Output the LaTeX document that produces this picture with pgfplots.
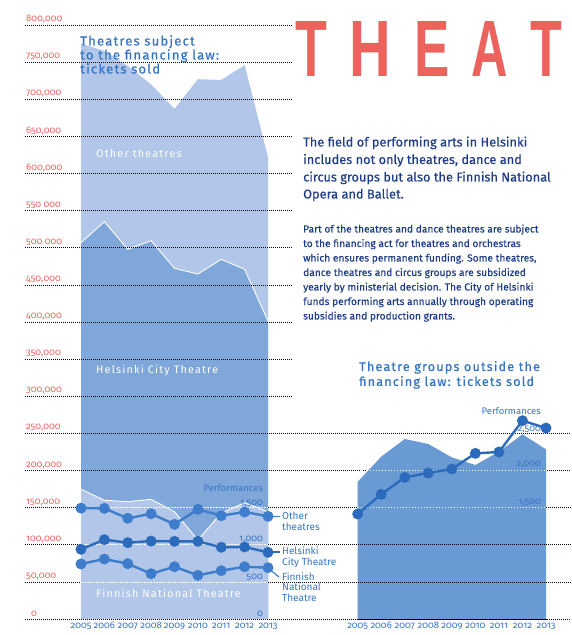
\documentclass[border=0pt]{standalone}
\usepackage{fontspec}
\setmainfont{Fira Sans}[Numbers=OldStyle]
\newfontfamily\spaced{Fira Sans}[LetterSpace=11,Numbers=OldStyle]
\newfontfamily\spacedb{Fira Sans}[LetterSpace=9,FakeBold=0.8,Numbers=OldStyle]
\newfontfamily\parafont{Fira Sans}[FakeBold=0.4,Numbers=OldStyle]
\newfontfamily\bigfont{Liberation Sans}
\usepackage{pgfplots}
\usepackage{pgfplotstable}
\pgfplotsset{compat=1.18}
\definecolor{tickred}{HTML}{EE6660}
\definecolor{bigred}{HTML}{EC625C}
\definecolor{lightA}{HTML}{B1C6E8}
\definecolor{midA}{HTML}{7FA7D9}
\definecolor{rightA}{HTML}{6A9AD4}
\definecolor{lineA}{HTML}{3D7DCB}
\definecolor{lineB}{HTML}{2C6BBB}
\definecolor{txtblue}{HTML}{3675C4}
\definecolor{navy}{HTML}{1E3C87}

\pgfplotstableread{
year fnt hct total
2005 174700 506800 775000
2006 159900 535100 765000
2007 158000 497900 745000
2008 161200 509500 720000
2009 144500 472300 687000
2010 106400 464600 727000
2011 142800 484400 726000
2012 156600 470900 746000
2013 144500 401300 622000
}\tickets

\pgfplotstableread{
year other hct fnt
2005 1493 939 741
2006 1490 1068 808
2007 1356 1028 745
2008 1418 1050 610
2009 1275 1046 704
2010 1477 1046 588
2011 1391 966 651
2012 1441 970 704
2013 1383 898 691
}\perf

\pgfplotstableread{
year tickets perf
2005 184900 1414
2006 218600 1679
2007 242400 1908
2008 235700 1966
2009 217700 2020
2010 207400 2231
2011 225300 2249
2012 248700 2671
2013 228500 2572
}\groups

\tikzset{bk/.style={black,line width=0.7pt,dash pattern=on 0.9pt off 1.1pt},
         wt/.style={white,line width=0.7pt,dash pattern=on 1.5pt off 1.5pt}}

\begin{document}
\begin{tikzpicture}
\useasboundingbox (0,0) rectangle (571pt,635pt);
% ---------------- left chart: tickets ----------------
\begin{axis}[at={(25pt,16pt)},anchor=south west,scale only axis,
  width=546pt,height=594pt,xmin=2002.604,xmax=2025.963,ymin=0,ymax=800000,
  hide axis,clip=false]
\addplot[fill=lightA,draw=none] table[x=year,y=total]{\tickets} \closedcycle;
\addplot[fill=midA,draw=none] table[x=year,y=hct]{\tickets} \closedcycle;
\addplot[fill=lightA,draw=none] table[x=year,y=fnt]{\tickets} \closedcycle;
\addplot[white,line width=0.9pt] table[x=year,y=hct]{\tickets};
\addplot[white,line width=0.9pt] table[x=year,y=fnt]{\tickets};
% grid lines
\draw[bk] (axis cs:2002.604,800000) -- (axis cs:2014.03,800000);
\draw[bk] (axis cs:2002.604,750000) -- (axis cs:2014.03,750000);
\draw[bk] (axis cs:2002.604,700000) -- (axis cs:2014.03,700000);
\draw[bk] (axis cs:2002.604,650000) -- (axis cs:2014.03,650000);
\draw[bk] (axis cs:2002.604,600000) -- (axis cs:2014.03,600000);
\draw[bk] (axis cs:2002.604,550000) -- (axis cs:2014.03,550000);
\draw[bk] (axis cs:2002.604,500000) -- (axis cs:2014.03,500000);
\draw[bk] (axis cs:2002.604,450000) -- (axis cs:2014.03,450000);
\draw[bk] (axis cs:2002.604,400000) -- (axis cs:2014.03,400000);
\draw[bk] (axis cs:2002.604,350000) -- (axis cs:2014.03,350000);
\draw[bk] (axis cs:2002.604,300000) -- (axis cs:2014.03,300000);
\draw[bk] (axis cs:2002.604,250000) -- (axis cs:2025.963,250000);
\draw[bk] (axis cs:2002.604,200000) -- (axis cs:2025.963,200000);
\draw[bk] (axis cs:2002.604,0) -- (axis cs:2025.963,0);
\draw[bk] (axis cs:2002.604,150000) -- (axis cs:2005,150000);
\draw[bk] (axis cs:2013,150000) -- (axis cs:2025.963,150000);
\draw[bk] (axis cs:2002.604,100000) -- (axis cs:2005,100000);
\draw[bk] (axis cs:2013,100000) -- (axis cs:2025.963,100000);
\draw[bk] (axis cs:2002.604,50000) -- (axis cs:2005,50000);
\draw[bk] (axis cs:2013,50000) -- (axis cs:2025.963,50000);
\draw[wt] (axis cs:2005,150000) -- (axis cs:2013,150000);
\draw[wt] (axis cs:2005,100000) -- (axis cs:2013,100000);
\draw[wt] (axis cs:2005,50000) -- (axis cs:2013,50000);
\end{axis}
% ---------------- left chart: performances ----------------
\begin{axis}[at={(25pt,16pt)},anchor=south west,scale only axis,
  width=546pt,height=594pt,xmin=2002.604,xmax=2025.963,ymin=0,ymax=8000,
  hide axis,clip=false]
\addplot[lineA,line width=2.4pt,mark=*,mark size=4.2pt] table[x=year,y=other]{\perf};
\addplot[lineB,line width=2.4pt,mark=*,mark size=4.2pt] table[x=year,y=hct]{\perf};
\addplot[lineA,line width=2.4pt,mark=*,mark size=4.2pt] table[x=year,y=fnt]{\perf};
\end{axis}
% ---------------- right chart ----------------
\begin{axis}[at={(357.7pt,16pt)},anchor=south west,scale only axis,
  width=188.3pt,height=594pt,xmin=2005,xmax=2013,ymin=0,ymax=800000,
  hide axis,clip=false]
\addplot[fill=rightA,draw=none] table[x=year,y=tickets]{\groups} \closedcycle;
\draw[bk] (axis cs:2005,100000) -- (axis cs:2013,100000);
\draw[bk] (axis cs:2005,50000) -- (axis cs:2013,50000);
\draw[bk] (axis cs:2005,0) -- (axis cs:2013,0);
\draw[wt] (axis cs:2005,150000) -- (axis cs:2013,150000);
\draw[wt] (axis cs:2005,200000) -- (axis cs:2013,200000);
\end{axis}
\begin{axis}[at={(357.7pt,16pt)},anchor=south west,scale only axis,
  width=188.3pt,height=594pt,xmin=2005,xmax=2013,ymin=0,ymax=8000,
  hide axis,clip=false]
\addplot[lineB,line width=2.4pt,mark=*,mark size=4.2pt] table[x=year,y=perf]{\groups};
\end{axis}
% ---------------- texts (pixel coordinates) ----------------
\begin{scope}[x=1pt,y=-1pt,shift={(0pt,635pt)},every node/.style={inner sep=0pt}]
% connector lines
\draw[lineA,line width=1.2pt] (268,516.5) -- (280,516.5);
\draw[lineB,line width=1.2pt] (268,552) -- (280,552);
\draw[lineA,line width=1.2pt] (268,568) -- (279,577);
% y tick labels
\begin{scope}[every node/.append style={anchor=base west,text=tickred,font=\fontsize{9.5}{10}\selectfont}]
\node at (26,22) {800,000};
\node at (26,59) {750,000};
\node at (26,96) {700,000};
\node at (26,134) {650,000};
\node at (26,171) {600,000};
\node at (26,208) {550 000};
\node at (26,245) {500 000};
\node at (26,282) {450,000};
\node at (26,319) {400,000};
\node at (26,356) {350,000};
\node at (26,393) {300,000};
\node at (26,430) {250,000};
\node at (26,468) {200,000};
\node at (26,505) {150,000};
\node at (26,542) {100,000};
\node at (26,579) {50,000};
\node at (31,616) {0};
\end{scope}
% year labels
\begin{scope}[every node/.append style={anchor=base,text=txtblue,font=\fontsize{9.5}{10}\selectfont}]
\node at (81,629) {2005};
\node at (104.4,629) {2006};
\node at (127.8,629) {2007};
\node at (151.1,629) {2008};
\node at (174.5,629) {2009};
\node at (197.9,629) {2010};
\node at (221.3,629) {2011};
\node at (244.6,629) {2012};
\node at (268,629) {2013};
\node at (357.7,629) {2005};
\node at (381.2,629) {2006};
\node at (404.8,629) {2007};
\node at (428.3,629) {2008};
\node at (451.9,629) {2009};
\node at (475.4,629) {2010};
\node at (499.0,629) {2011};
\node at (522.5,629) {2012};
\node at (546,629) {2013};
\end{scope}
% performance labels
\begin{scope}[every node/.append style={anchor=base east,text=txtblue,font=\fontsize{9.5}{10}\selectfont}]
\node at (263,492) {Performances};
\node at (263,506) {1,500};
\node at (263,542) {1,000};
\node at (263,580) {500};
\node at (263,616) {0};
\node at (541,415) {Performances};
\node at (541,432) {2,500};
\node at (541,467) {2,000};
\node at (541,505) {1,500};
\end{scope}
% series labels
\begin{scope}[every node/.append style={anchor=base west,text=txtblue,font=\fontsize{10}{11}\selectfont}]
\node at (282,519.5) {Other};
\node at (282,530.5) {theatres};
\node at (282,555) {Helsinki};
\node at (282,566) {City Theatre};
\node at (282,580.5) {Finnish};
\node at (282,591) {National};
\node at (282,602) {Theatre};
\end{scope}
% area labels
\begin{scope}[every node/.append style={anchor=base west,text=white,font=\spaced\fontsize{10.8}{11}\selectfont}]
\node at (96,158) {Other theatres};
\node at (96,374) {Helsinki City Theatre};
\node at (96,598) {Finnish National Theatre};
\end{scope}
% titles
\begin{scope}[every node/.append style={anchor=base west,text=txtblue,font=\spacedb\fontsize{13.1}{14}\selectfont}]
\node at (80,45.5) {Theatres subject};
\node at (80,59.5) {to the financing law:};
\node at (80,73.5) {tickets sold};
\end{scope}
\begin{scope}[every node/.append style={anchor=base west,text=txtblue,font=\spacedb\fontsize{12.7}{13}\selectfont}]
\node at (359,371) {Theatre groups outside the};
\node at (359,386) {financing law: tickets sold};
\end{scope}
% paragraphs
\begin{scope}[every node/.append style={anchor=base west,text=navy,font=\parafont\fontsize{12.8}{13}\selectfont}]
\node at (303,146.5) {The field of performing arts in Helsinki};
\node at (303,164) {includes not only theatres, dance and};
\node at (303,181.5) {circus groups but also the Finnish National};
\node at (303,198.5) {Opera and Ballet.};
\end{scope}
\begin{scope}[every node/.append style={anchor=base west,text=navy,font=\parafont\fontsize{10.2}{11}\selectfont}]
\node at (303,232.5) {Part of the theatres and dance theatres are subject};
\node at (303,247) {to the financing act for theatres and orchestras};
\node at (303,261.5) {which ensures permanent funding. Some theatres,};
\node at (303,276) {dance theatres and circus groups are subsidized};
\node at (303,290.5) {yearly by ministerial decision. The City of Helsinki};
\node at (303,305) {funds performing arts annually through operating};
\node at (303,319.5) {subsidies and production grants.};
\end{scope}
% big title
\begin{scope}[every node/.append style={anchor=base,text=bigred,font=\bigfont\bfseries\fontsize{80}{80}\selectfont}]
\node at (311,77) {\scalebox{0.65}[1]{T}};
\node at (370.5,77) {\scalebox{0.72}[1]{H}};
\node at (432,77) {\scalebox{0.66}[1]{E}};
\node at (490,77) {\scalebox{0.63}[1]{A}};
\node at (546.5,77) {\scalebox{0.65}[1]{T}};
\end{scope}
\end{scope}
\end{tikzpicture}
\end{document}
